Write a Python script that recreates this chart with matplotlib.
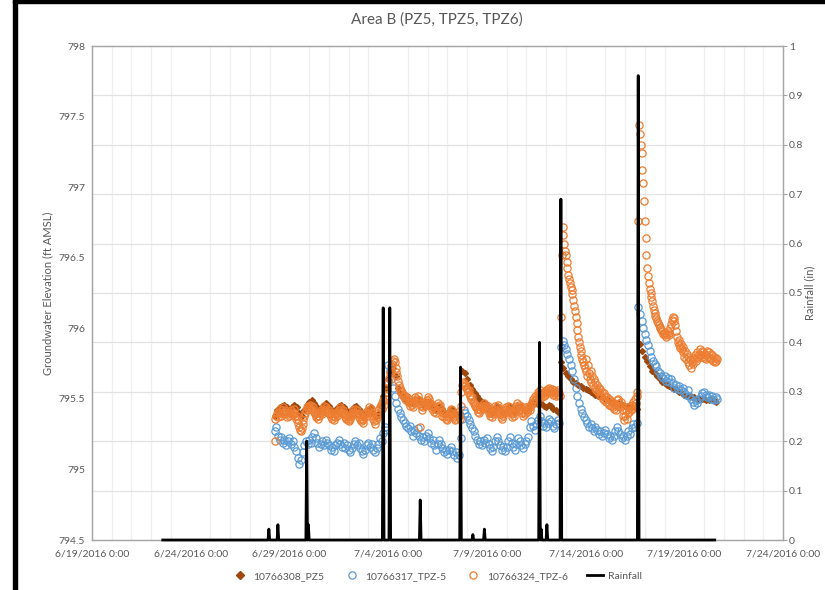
import numpy as np
import pandas as pd
import matplotlib
matplotlib.use("Agg")
import matplotlib.pyplot as plt
from matplotlib.lines import Line2D
from matplotlib.patches import Rectangle

plt.rcParams['font.family'] = ['Lato', 'DejaVu Sans']

# PZ5 readings, every 3 hours from 6/28/2016 06:00 (one row per day)
pz5_start = '2016-06-28 06:00'
pz5 = [
    795.38, 795.42, 795.44, 795.45, 795.46, 795.44,
    795.42, 795.44, 795.46, 795.44, 795.40, 795.38, 795.42, 795.46,
    795.48, 795.49, 795.47, 795.44, 795.42, 795.44, 795.46, 795.47,
    795.45, 795.43, 795.41, 795.43, 795.45, 795.46, 795.44, 795.42,
    795.40, 795.42, 795.44, 795.45, 795.43, 795.40, 795.38, 795.40,
    795.42, 795.44, 795.40, 795.37, 795.39, 795.45, 795.52, 795.58,
    795.64, 795.70, 795.72, 795.66, 795.58, 795.54, 795.52, 795.50,
    795.50, 795.48, 795.47, 795.49, 795.50, 795.48, 795.46, 795.47,
    795.48, 795.46, 795.44, 795.42, 795.43, 795.45, 795.43, 795.40,
    795.39, 795.42, 795.43, 795.40, 795.38, 795.40, 795.70, 795.68,
    795.64, 795.60, 795.57, 795.54, 795.52, 795.50, 795.48, 795.47,
    795.45, 795.42, 795.40, 795.43, 795.45, 795.44, 795.41, 795.40,
    795.42, 795.45, 795.44, 795.41, 795.42, 795.45, 795.44, 795.42,
    795.43, 795.45, 795.47, 795.48, 795.47, 795.46, 795.47, 795.45,
    795.44, 795.46, 795.45, 795.43, 795.42, 795.41, 795.76, 795.72,
    795.68, 795.66, 795.64, 795.62, 795.61, 795.60, 795.59, 795.58,
    795.57, 795.56, 795.55, 795.54, 795.53, 795.52, 795.52, 795.51,
    795.50, 795.49, 795.48, 795.48, 795.47, 795.47, 795.46, 795.46,
    795.45, 795.45, 795.44, 795.44, 795.44, 795.43, 795.89, 795.84,
    795.80, 795.77, 795.73, 795.70, 795.68, 795.66, 795.64, 795.62,
    795.61, 795.60, 795.59, 795.58, 795.57, 795.56, 795.55, 795.54,
    795.53, 795.52, 795.52, 795.51, 795.51, 795.50, 795.50, 795.50,
    795.50, 795.49, 795.49, 795.50, 795.49, 795.48,
]

# TPZ-5 readings, every 2 hours from 6/28/2016 06:00
tpz5_start = '2016-06-28 06:00'
tpz5 = [
    795.27, 795.30, 795.24, 795.21, 795.23, 795.19, 795.21, 795.17, 795.20,
    795.22, 795.18, 795.20, 795.16, 795.13, 795.08, 795.04, 795.07, 795.12, 795.17, 795.20, 795.18,
    795.21, 795.19, 795.23, 795.26, 795.22, 795.19, 795.16, 795.18, 795.20, 795.17, 795.21, 795.19,
    795.17, 795.14, 795.16, 795.13, 795.17, 795.19, 795.21, 795.18, 795.16, 795.19, 795.15, 795.17,
    795.14, 795.12, 795.15, 795.18, 795.20, 795.17, 795.19, 795.15, 795.13, 795.11, 795.14, 795.17,
    795.19, 795.16, 795.18, 795.14, 795.12, 795.15, 795.18, 795.22, 795.20, 795.26, 795.30, 795.28,
    795.74, 795.70, 795.64, 795.58, 795.52, 795.47, 795.43, 795.40, 795.37, 795.35, 795.33, 795.31,
    795.29, 795.31, 795.27, 795.24, 795.28, 795.26, 795.29, 795.24, 795.21, 795.23, 795.20, 795.24,
    795.26, 795.22, 795.19, 795.21, 795.17, 795.14, 795.18, 795.21, 795.18, 795.15, 795.12, 795.14,
    795.11, 795.14, 795.16, 795.13, 795.10, 795.12, 795.08, 795.10, 795.22, 795.36, 795.42, 795.40,
    795.38, 795.35, 795.32, 795.29, 795.27, 795.24, 795.21, 795.18, 795.20, 795.17, 795.21, 795.19,
    795.22, 795.18, 795.15, 795.13, 795.16, 795.20, 795.23, 795.20, 795.17, 795.14, 795.16, 795.13,
    795.16, 795.20, 795.23, 795.19, 795.16, 795.14, 795.18, 795.22, 795.20, 795.17, 795.15, 795.18,
    795.20, 795.23, 795.30, 795.34, 795.31, 795.28, 795.32, 795.35, 795.38, 795.34, 795.31, 795.33,
    795.30, 795.33, 795.36, 795.34, 795.31, 795.29, 795.32, 795.35, 795.33, 795.87, 795.91, 795.88,
    795.85, 795.82, 795.78, 795.74, 795.70, 795.64, 795.58, 795.52, 795.47, 795.43, 795.40, 795.37,
    795.35, 795.33, 795.30, 795.32, 795.29, 795.27, 795.30, 795.28, 795.25, 795.27, 795.24, 795.26,
    795.28, 795.25, 795.22, 795.24, 795.21, 795.24, 795.27, 795.30, 795.27, 795.25, 795.22, 795.24,
    795.21, 795.24, 795.27, 795.25, 795.29, 795.32, 795.30, 795.33, 796.15, 796.10, 796.05, 796.00,
    795.96, 795.92, 795.88, 795.84, 795.80, 795.77, 795.75, 795.73, 795.70, 795.68, 795.66, 795.65,
    795.66, 795.63, 795.65, 795.62, 795.64, 795.61, 795.58, 795.60, 795.57, 795.59, 795.56, 795.58,
    795.55, 795.53, 795.56, 795.52, 795.50, 795.48, 795.46, 795.49, 795.47, 795.50, 795.52, 795.54,
    795.55, 795.53, 795.51, 795.53, 795.50, 795.52, 795.49, 795.51, 795.50,
]

# TPZ-6 readings, hourly from 6/28/2016 06:00
tpz6_start = '2016-06-28 06:00'
tpz6 = [
    795.20, 795.36, 795.38, 795.40, 795.37, 795.41, 795.43, 795.40, 795.38, 795.42, 795.44, 795.41,
    795.39, 795.42, 795.40, 795.37, 795.39, 795.41,
    795.38, 795.40, 795.42, 795.39, 795.41, 795.43, 795.40, 795.38, 795.36, 795.38, 795.35, 795.33,
    795.30, 795.28, 795.27, 795.29, 795.32, 795.35, 795.38, 795.40, 795.42, 795.44, 795.43, 795.45,
    795.44, 795.46, 795.43, 795.45, 795.42, 795.44, 795.41, 795.39, 795.37, 795.40, 795.38, 795.36,
    795.38, 795.40, 795.42, 795.39, 795.41, 795.43, 795.45, 795.42, 795.44, 795.41, 795.43, 795.40,
    795.42, 795.39, 795.37, 795.40, 795.36, 795.38, 795.35, 795.37, 795.39, 795.41, 795.38, 795.40,
    795.42, 795.44, 795.41, 795.43, 795.40, 795.42, 795.39, 795.37, 795.39, 795.36, 795.38, 795.35,
    795.37, 795.34, 795.36, 795.38, 795.40, 795.42, 795.39, 795.41, 795.43, 795.40, 795.42, 795.39,
    795.37, 795.39, 795.36, 795.34, 795.36, 795.33, 795.35, 795.37, 795.39, 795.41, 795.38, 795.40,
    795.42, 795.44, 795.41, 795.43, 795.40, 795.38, 795.36, 795.34, 795.32, 795.35, 795.37, 795.40,
    795.42, 795.39, 795.44, 795.46, 795.43, 795.47, 795.49, 795.46, 795.50, 795.52, 795.55, 795.58,
    795.62, 795.65, 795.68, 795.70, 795.73, 795.75, 795.77, 795.78, 795.76, 795.72, 795.69, 795.66,
    795.63, 795.60, 795.58, 795.56, 795.54, 795.55, 795.52, 795.53, 795.50, 795.52, 795.49, 795.51,
    795.48, 795.50, 795.47, 795.45, 795.48, 795.46, 795.44, 795.47, 795.49, 795.51, 795.48, 795.50,
    795.52, 795.49, 795.47, 795.30, 795.45, 795.42, 795.44, 795.46, 795.48, 795.45, 795.47, 795.49,
    795.51, 795.48, 795.50, 795.47, 795.45, 795.43, 795.46, 795.44, 795.41, 795.43, 795.40, 795.42,
    795.45, 795.47, 795.44, 795.46, 795.43, 795.41, 795.38, 795.40, 795.37, 795.39, 795.36, 795.38,
    795.35, 795.37, 795.39, 795.41, 795.43, 795.40, 795.42, 795.39, 795.37, 795.35, 795.38, 795.36,
    795.39, 795.41, 795.38, 795.36, 795.45, 795.55, 795.60, 795.62, 795.61, 795.59, 795.60, 795.58,
    795.57, 795.55, 795.56, 795.53, 795.52, 795.50, 795.51, 795.48, 795.47, 795.45, 795.46, 795.44,
    795.43, 795.41, 795.43, 795.40, 795.42, 795.44, 795.46, 795.43, 795.45, 795.47, 795.44, 795.46,
    795.43, 795.45, 795.42, 795.40, 795.38, 795.40, 795.37, 795.39, 795.41, 795.43, 795.45, 795.42,
    795.44, 795.46, 795.43, 795.41, 795.39, 795.37, 795.39, 795.36, 795.38, 795.40, 795.42, 795.44,
    795.41, 795.43, 795.45, 795.42, 795.44, 795.41, 795.39, 795.37, 795.40, 795.38, 795.41, 795.43,
    795.45, 795.47, 795.44, 795.46, 795.43, 795.45, 795.42, 795.40, 795.38, 795.41, 795.39, 795.42,
    795.44, 795.41, 795.43, 795.45, 795.42, 795.44, 795.46, 795.48, 795.50, 795.47, 795.49, 795.52,
    795.50, 795.53, 795.55, 795.52, 795.54, 795.56, 795.53, 795.51, 795.54, 795.52, 795.55, 795.53,
    795.56, 795.54, 795.57, 795.55, 795.58, 795.56, 795.54, 795.57, 795.55, 795.53, 795.56, 795.54,
    795.52, 795.55, 795.53, 795.56, 795.54, 795.52, 796.08, 796.52, 796.72, 796.66, 796.60, 796.55,
    796.52, 796.47, 796.43, 796.38, 796.35, 796.32, 796.29, 796.27, 796.24, 796.20, 796.16, 796.12,
    796.08, 796.04, 795.99, 795.94, 795.90, 795.87, 795.84, 795.81, 795.78, 795.76, 795.74, 795.72,
    795.78, 795.70, 795.66, 795.74, 795.68, 795.64, 795.70, 795.62, 795.66, 795.60, 795.64, 795.58,
    795.62, 795.56, 795.60, 795.55, 795.58, 795.53, 795.57, 795.52, 795.55, 795.50, 795.54, 795.49,
    795.52, 795.48, 795.51, 795.47, 795.50, 795.46, 795.49, 795.45, 795.48, 795.44, 795.47, 795.43,
    795.46, 795.42, 795.49, 795.45, 795.50, 795.47, 795.44, 795.48, 795.45, 795.42, 795.38, 795.35,
    795.38, 795.42, 795.36, 795.40, 795.44, 795.41, 795.45, 795.42, 795.46, 795.43, 795.48, 795.45,
    795.50, 795.47, 795.52, 795.55, 796.76, 797.44, 797.38, 797.30, 797.24, 797.12, 797.03, 796.90,
    796.76, 796.64, 796.52, 796.43, 796.37, 796.32, 796.28, 796.25, 796.22, 796.19, 796.16, 796.13,
    796.11, 796.09, 796.07, 796.05, 796.04, 796.02, 796.01, 796.00, 795.99, 795.98, 795.96, 795.97,
    795.95, 795.97, 795.94, 795.96, 795.98, 795.95, 795.97, 796.00, 796.03, 796.06, 796.08, 796.05,
    796.07, 796.02, 795.98, 795.94, 795.90, 795.92, 795.88, 795.86, 795.89, 795.85, 795.87, 795.83,
    795.80, 795.84, 795.78, 795.82, 795.76, 795.80, 795.74, 795.78, 795.72, 795.76, 795.79, 795.75,
    795.78, 795.81, 795.77, 795.80, 795.83, 795.79, 795.82, 795.85, 795.81, 795.84, 795.80, 795.83,
    795.79, 795.82, 795.78, 795.81, 795.84, 795.80, 795.83, 795.79, 795.82, 795.78, 795.81, 795.77,
    795.80, 795.76, 795.79, 795.77, 795.78,
]

# rainfall (in), hourly record; only non-zero hours listed
rain_start = '2016-06-22 14:00'
rain_end = '2016-07-20 13:00'
rain_times = ['2016-06-27 23:00', '2016-06-28 10:00', '2016-06-29 21:00', '2016-06-29 23:00',
              '2016-07-03 18:00', '2016-07-04 02:00', '2016-07-05 15:00', '2016-07-07 16:00',
              '2016-07-08 07:00', '2016-07-08 21:00', '2016-07-11 16:00', '2016-07-11 18:00',
              '2016-07-12 01:00', '2016-07-12 18:00', '2016-07-16 16:00']
rain_vals = [0.022, 0.031, 0.20, 0.031,
             0.47, 0.47, 0.081, 0.35,
             0.011, 0.022, 0.40, 0.022,
             0.031, 0.69, 0.94]

names = ['10766308_PZ5', '10766317_TPZ-5', '10766324_TPZ-6', 'Rainfall']
c_pz5, c_tpz5, c_tpz6 = '#9E480E', '#5B9BD5', '#ED7D31'
txt = '#595959'

fig = plt.figure(figsize=(8.25, 5.9), dpi=100)
ax = fig.add_axes([92 / 825, 1 - 540 / 590, 691 / 825, 494 / 590])

t_pz5 = pd.date_range(pz5_start, periods=len(pz5), freq='3h')
t_tpz5 = pd.date_range(tpz5_start, periods=len(tpz5), freq='2h')
t_tpz6 = pd.date_range(tpz6_start, periods=len(tpz6), freq='h')

ax.plot(t_pz5, pz5, ls='none', marker='D', ms=3.0, color=c_pz5, mec=c_pz5, zorder=3)
ax.plot(t_tpz5, tpz5, ls='none', marker='o', ms=5.2, mfc='none', mec=c_tpz5, mew=0.9, zorder=4)
ax.plot(t_tpz6, tpz6, ls='none', marker='o', ms=5.2, mfc='none', mec=c_tpz6, mew=0.9, zorder=5)

ax.set_xlim(pd.Timestamp('2016-06-19'), pd.Timestamp('2016-07-24'))
ax.set_ylim(794.5, 798)
ax.set_yticks(np.arange(794.5, 798.01, 0.5))
ax.set_yticklabels([f'{v:g}' for v in np.arange(794.5, 798.01, 0.5)])
ax.set_yticks(np.linspace(794.5, 798, 11), minor=True)
major_days = pd.date_range('2016-06-19', '2016-07-24', freq='5D')
ax.set_xticks(major_days)
ax.set_xticklabels([f'{d.month}/{d.day}/{d.year} 0:00' for d in major_days])
ax.set_xticks(pd.date_range('2016-06-19', '2016-07-24', freq='D'), minor=True)
ax.grid(False)
ax.xaxis.grid(True, which='minor', color='#EFEFEF', lw=0.9)
ax.yaxis.grid(True, which='minor', color='#E2E2E2', lw=0.9)
ax.set_axisbelow(True)
ax.tick_params(which='both', length=0, labelsize=7.5, labelcolor=txt, pad=5)
ax.tick_params(axis='x', pad=7)
ax.set_ylabel('Groundwater Elevation (ft AMSL)', fontsize=8, color=txt)
ax.yaxis.set_label_coords(-0.056, 0.5)

ax2 = ax.twinx()
hours = pd.date_range(rain_start, rain_end, freq='h')
rain = np.zeros(len(hours))
for t, v in zip(rain_times, rain_vals):
    rain[hours.get_loc(pd.Timestamp(t))] = v
ax2.plot(hours, rain, color='black', lw=2.0, zorder=6, clip_on=False)
ax2.set_ylim(0, 1)
ax2.set_yticks(np.arange(0, 1.01, 0.1))
ax2.set_yticklabels([f'{v:g}' for v in np.round(np.arange(0, 1.01, 0.1), 1)])
ax2.tick_params(axis='y', length=3, color='#A6A6A6', labelsize=7.5, labelcolor=txt, pad=1.5)
ax2.set_ylabel('Rainfall (in)', fontsize=8, color=txt)
ax2.yaxis.set_label_coords(1.031, 0.5)

for a in (ax, ax2):
    for s in a.spines.values():
        s.set_color('#A6A6A6')
        s.set_linewidth(0.9)

fig.text(437 / 825, 1 - 20 / 590, 'Area B (PZ5, TPZ5, TPZ6)', ha='center', va='center',
         fontsize=11, color=txt)

handles = [
    Line2D([], [], ls='none', marker='D', ms=3.6, color=c_pz5),
    Line2D([], [], ls='none', marker='o', ms=5.2, mfc='none', mec=c_tpz5, mew=0.9),
    Line2D([], [], ls='none', marker='o', ms=5.2, mfc='none', mec=c_tpz6, mew=0.9),
    Line2D([], [], color='black', lw=2.0),
]
leg = fig.legend(handles, names, loc='center', bbox_to_anchor=(437 / 825, 1 - 576 / 590),
                 ncol=4, frameon=False, fontsize=7.5, handlelength=1.6, columnspacing=1.8,
                 handletextpad=0.5)
for t in leg.get_texts():
    t.set_color(txt)

# black frame edges of the screenshot
fig.patches.append(Rectangle((13 / 825, 0), 4 / 825, 1, transform=fig.transFigure,
                             color='black', zorder=10))
fig.patches.append(Rectangle((13 / 825, 1 - 3 / 590), 1, 3 / 590, transform=fig.transFigure,
                             color='black', zorder=10))

fig.savefig('out.png', dpi=100)
